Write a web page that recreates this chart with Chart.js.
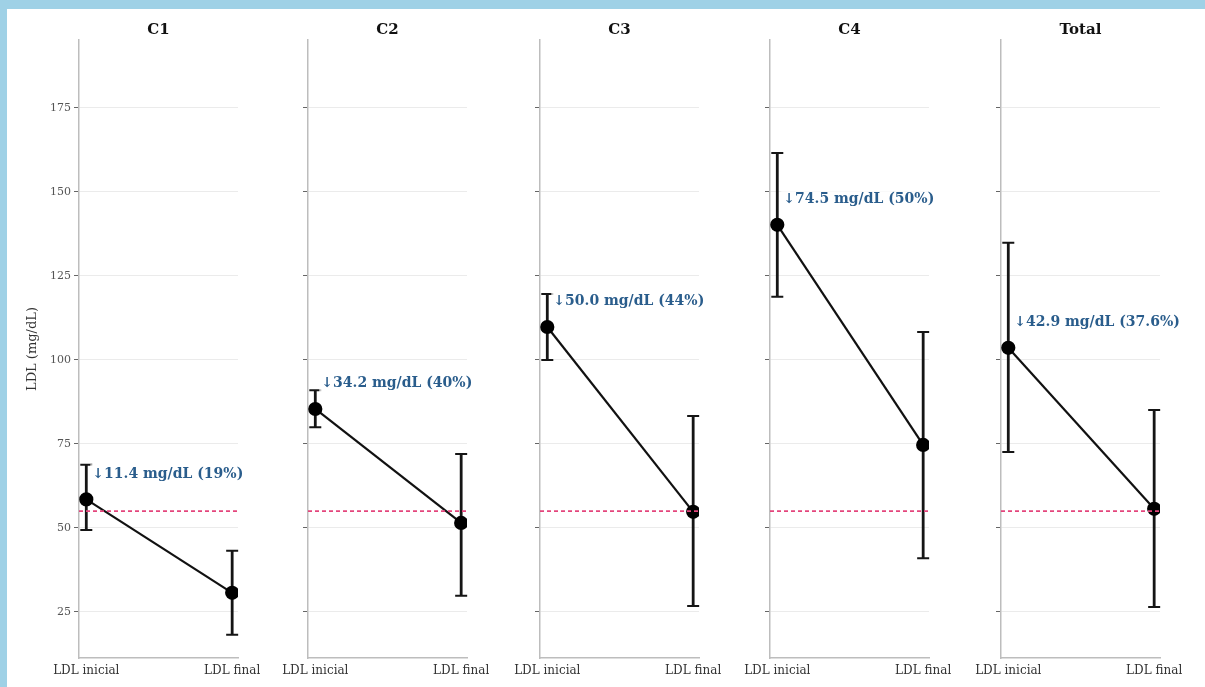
<!doctype html>
<html>
<head>
<meta charset="utf-8">
<title>LDL inicial vs final</title>
<script src="https://cdn.jsdelivr.net/npm/chart.js@4"></script>
<style>
body {margin: 0; background: #9fd1e6; width: 1205px; height: 687px; overflow: hidden}
#page {position: absolute; left: 7px; top: 9px; width: 1198px; height: 678px; background: #fff}
canvas {position: absolute; top: 9px}
</style>
</head>
<body>
<div id="page"></div>
<script>
let groups = ['C1', 'C2', 'C3', 'C4', 'Total']
let xLabels = ['LDL inicial', 'LDL final']
let ldlInicial = [58.5, 85.4, 109.8, 140.2, 103.6]
let ldlFinal = [30.7, 51.5, 54.8, 74.7, 55.7]
let inicialLow = [49.4, 80.0, 100.0, 118.8, 72.6]
let inicialHigh = [68.8, 91.0, 119.6, 161.6, 134.9]
let finalLow = [18.2, 29.8, 26.8, 41.0, 26.5]
let finalHigh = [43.2, 72.0, 83.3, 108.3, 85.1]
let reductions = ['↓11.4 mg/dL (19%)', '↓34.2 mg/dL (40%)', '↓50.0 mg/dL (44%)', '↓74.5 mg/dL (50%)', '↓42.9 mg/dL (37.6%)']
let yTicks = [25, 50, 75, 100, 125, 150, 175]
let target = 55

let axisX = [79, 308, 540, 770, 1001]
let serif = '"DejaVu Serif", serif'

let panelText = {
    id: 'panelText',
    beforeDatasetsDraw(chart) {
        let {ctx, scales: {x, y}} = chart
        let i = chart.options.plugins.panelText.index
        let bars = [[0, inicialLow[i], inicialHigh[i]], [1, finalLow[i], finalHigh[i]]]
        ctx.save()
        ctx.strokeStyle = '#151515'
        for (let [v, lo, hi] of bars) {
            let px = x.getPixelForValue(v)
            let top = y.getPixelForValue(hi)
            let bottom = y.getPixelForValue(lo)
            ctx.lineWidth = 2.8
            ctx.beginPath()
            ctx.moveTo(px, top)
            ctx.lineTo(px, bottom)
            ctx.stroke()
            ctx.lineWidth = 2
            ctx.beginPath()
            ctx.moveTo(px - 6, top)
            ctx.lineTo(px + 6, top)
            ctx.moveTo(px - 6, bottom)
            ctx.lineTo(px + 6, bottom)
            ctx.stroke()
        }
        ctx.restore()
    },
    afterDraw(chart) {
        let {ctx, chartArea: a, scales: {x, y}} = chart
        let i = chart.options.plugins.panelText.index
        ctx.save()
        ctx.font = 'bold 15px ' + serif
        ctx.fillStyle = '#111'
        ctx.textAlign = 'center'
        ctx.textBaseline = 'middle'
        ctx.fillText(groups[i], (a.left + a.right) / 2, 21)

        ctx.font = 'bold 14px ' + serif
        ctx.textAlign = 'left'
        let tx = x.getPixelForValue(0) + 6
        let ty = y.getPixelForValue(ldlInicial[i] + 7.5)
        let w = ctx.measureText(reductions[i]).width
        ctx.fillStyle = 'rgba(255,255,255,0.75)'
        ctx.fillRect(tx - 2, ty - 10, w + 4, 20)
        ctx.fillStyle = '#2a5d8c'
        ctx.fillText(reductions[i], tx, ty)
        ctx.restore()
    }
}

groups.forEach(function (name, i) {
    let canvas = document.createElement('canvas')
    canvas.width = 271
    canvas.height = 678
    canvas.style.left = (axisX[i] - 72) + 'px'
    document.body.appendChild(canvas)

    new Chart(canvas, {
        type: 'line',
        data: {
            datasets: [
                {
                    data: [{x: -0.05, y: target}, {x: 1.04, y: target}],
                    borderColor: '#e4457c',
                    borderDash: [4, 3],
                    borderWidth: 1.6,
                    pointRadius: 0
                },
                {
                    data: [{x: 0, y: ldlInicial[i]}, {x: 1, y: ldlFinal[i]}],
                    borderColor: '#111',
                    borderWidth: 2.2,
                    pointRadius: 6,
                    pointBackgroundColor: '#000',
                    pointBorderColor: '#000'
                }
            ]
        },
        options: {
            responsive: false,
            animation: false,
            layout: {padding: {top: 31, right: 40}},
            plugins: {legend: {display: false}, tooltip: {enabled: false}, panelText: {index: i}},
            scales: {
                x: {
                    type: 'linear',
                    min: -0.05,
                    max: 1.04,
                    afterBuildTicks: s => { s.ticks = [{value: 0}, {value: 1}] },
                    afterFit: s => { s.height = 29 },
                    ticks: {callback: v => xLabels[v], font: {family: serif, size: 12}, color: '#333', padding: 6, maxRotation: 0},
                    grid: {display: false, drawTicks: false},
                    border: {color: '#bdbdbd', width: 1.5}
                },
                y: {
                    min: 11.3,
                    max: 195.2,
                    afterBuildTicks: s => { s.ticks = yTicks.map(v => ({value: v})) },
                    afterFit: s => { s.width = 72 },
                    ticks: {display: i === 0, font: {family: serif, size: 11}, color: '#555', padding: 3},
                    grid: {color: '#ebebeb', tickColor: '#666', tickLength: 5},
                    border: {color: '#bdbdbd', width: 1.5},
                    title: {display: i === 0, text: 'LDL (mg/dL)', font: {family: serif, size: 13}, color: '#333', padding: {top: 18, bottom: 0}}
                }
            }
        },
        plugins: [panelText]
    })
})
</script>
</body>
</html>
